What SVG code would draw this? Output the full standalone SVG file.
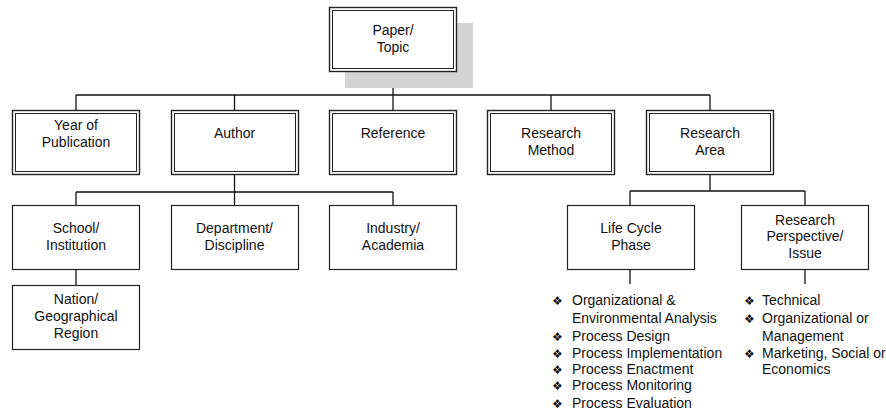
<svg xmlns="http://www.w3.org/2000/svg" width="886" height="412" viewBox="0 0 886 412">
<style>
.o{fill:#fff;stroke:#222;stroke-width:1.4}
.i{fill:none;stroke:#222;stroke-width:1}
.s{fill:#fff;stroke:#222;stroke-width:1.2}
text{font-family:"Liberation Sans",Arial,sans-serif;font-size:14px;fill:#111}
.c{text-anchor:middle}
.b{font-family:"DejaVu Sans",sans-serif;font-size:12px}
.ln{stroke:#111;stroke-width:1.3;fill:none}
</style>
<g id="connectors">
<path class="ln" d="M393 72V95M76 95H710M76 95V110M234.5 95V110M393 95V110M551 95V110M710 95V110"/>
<path class="ln" d="M234.5 174V192M76 192H393M76 192V205M234.5 192V205M393 192V205M76 269V285"/>
<path class="ln" d="M710 174V191M630 191H805M630 191V205M805 191V205M630 269V284M805 269V284"/>
</g>
<g id="paper">
<rect x="345" y="23" width="128" height="65" fill="#d4d4d4"/>
<rect class="o" x="329.5" y="7.5" width="127" height="64"/>
<rect class="i" x="332.5" y="10.5" width="121" height="58"/>
<text class="c" x="393" y="35">Paper/</text>
<text class="c" x="393" y="52">Topic</text>
</g>
<g id="year">
<rect class="o" x="12.5" y="110.5" width="127" height="64"/>
<rect class="i" x="15.5" y="113.5" width="121" height="58"/>
<text class="c" x="76" y="130">Year of</text>
<text class="c" x="76" y="147">Publication</text>
</g>
<g id="author">
<rect class="o" x="171.5" y="110.5" width="127" height="64"/>
<rect class="i" x="174.5" y="113.5" width="121" height="58"/>
<text class="c" x="234.5" y="138">Author</text>
</g>
<g id="reference">
<rect class="o" x="329.5" y="110.5" width="127" height="64"/>
<rect class="i" x="332.5" y="113.5" width="121" height="58"/>
<text class="c" x="393" y="138">Reference</text>
</g>
<g id="method">
<rect class="o" x="487.5" y="110.5" width="127" height="64"/>
<rect class="i" x="490.5" y="113.5" width="121" height="58"/>
<text class="c" x="551" y="138">Research</text>
<text class="c" x="551" y="155">Method</text>
</g>
<g id="area">
<rect class="o" x="646.5" y="110.5" width="127" height="64"/>
<rect class="i" x="649.5" y="113.5" width="121" height="58"/>
<text class="c" x="710" y="138">Research</text>
<text class="c" x="710" y="155">Area</text>
</g>
<g id="school">
<rect class="s" x="12.5" y="205.5" width="127" height="64"/>
<text class="c" x="76" y="233">School/</text>
<text class="c" x="76" y="250">Institution</text>
</g>
<g id="department">
<rect class="s" x="171.5" y="205.5" width="127" height="64"/>
<text class="c" x="234.5" y="233">Department/</text>
<text class="c" x="234.5" y="250">Discipline</text>
</g>
<g id="industry">
<rect class="s" x="329.5" y="205.5" width="127" height="64"/>
<text class="c" x="393" y="233">Industry/</text>
<text class="c" x="393" y="250">Academia</text>
</g>
<g id="nation">
<rect class="s" x="12.5" y="285.5" width="127" height="64"/>
<text class="c" x="76" y="304">Nation/</text>
<text class="c" x="76" y="321">Geographical</text>
<text class="c" x="76" y="338">Region</text>
</g>
<g id="lifecycle">
<rect class="s" x="567.5" y="205.5" width="127" height="64"/>
<text class="c" x="631" y="233">Life Cycle</text>
<text class="c" x="631" y="250">Phase</text>
</g>
<g id="perspective">
<rect class="s" x="741.5" y="205.5" width="127" height="64"/>
<text class="c" x="805" y="225">Research</text>
<text class="c" x="805" y="241">Perspective/</text>
<text class="c" x="805" y="258">Issue</text>
</g>
<g id="lifecycle-list">
<text class="b" x="552" y="305">❖</text><text x="572" y="305">Organizational &amp;</text>
<text x="572" y="323">Environmental Analysis</text>
<text class="b" x="552" y="341">❖</text><text x="572" y="341">Process Design</text>
<text class="b" x="552" y="358">❖</text><text x="572" y="358">Process Implementation</text>
<text class="b" x="552" y="374">❖</text><text x="572" y="374">Process Enactment</text>
<text class="b" x="552" y="390">❖</text><text x="572" y="390">Process Monitoring</text>
<text class="b" x="552" y="408">❖</text><text x="572" y="408">Process Evaluation</text>
</g>
<g id="perspective-list">
<text class="b" x="744" y="305">❖</text><text x="762" y="305">Technical</text>
<text class="b" x="744" y="323">❖</text><text x="762" y="323">Organizational or</text>
<text x="762" y="341">Management</text>
<text class="b" x="744" y="358">❖</text><text x="762" y="358">Marketing, Social or</text>
<text x="762" y="374">Economics</text>
</g>
</svg>
